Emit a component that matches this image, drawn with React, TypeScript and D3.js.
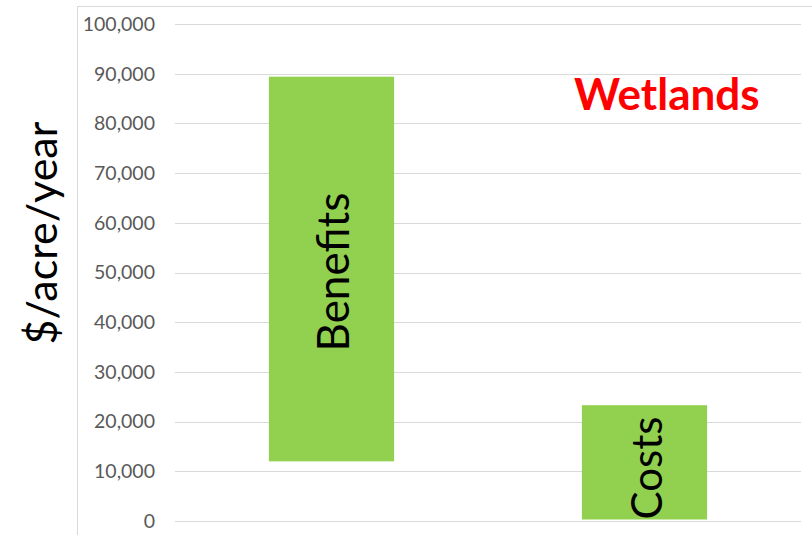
import React from "react";
import * as d3 from "d3";

const categories: string[] = ["Benefits", "Costs"];
const lowValues: number[] = [12000, 300];
const highValues: number[] = [89400, 23300];
const yTicks: number[] = [0, 10000, 20000, 30000, 40000, 50000, 60000, 70000, 80000, 90000, 100000];
const yTitle = "$/acre/year";
const chartTitle = "Wetlands";

const W = 812;
const H = 535;
const FONT = "Lato, 'Open Sans', sans-serif";

export default function App() {
  const x = d3.scaleBand<string>().domain(categories).range([175, 801]).paddingInner(0.6).paddingOuter(0.3);
  const y = d3.scaleLinear().domain([0, 100000]).range([521, 24]);
  const fmt = d3.format(",");

  return (
    <svg width={W} height={H} style={{ position: "absolute", left: 0, top: 0, background: "#fff" }}>
      <rect x={77.5} y={6.5} width={W + 10} height={H + 10} fill="#fff" stroke="#d9d9d9" strokeWidth={1} />
      {yTicks.map((t) => (
        <g key={t}>
          <line x1={175} x2={801} y1={Math.round(y(t)) + 0.5} y2={Math.round(y(t)) + 0.5} stroke="#d9d9d9" strokeWidth={1} />
          <text x={155} y={y(t)} dy="0.35em" textAnchor="end" fontFamily={FONT} fontSize={19.5} fill="#595959">
            {fmt(t)}
          </text>
        </g>
      ))}
      {categories.map((c, i) => {
        const bx = x(c)!;
        const bw = x.bandwidth();
        const top = y(highValues[i]);
        const bot = y(lowValues[i]);
        const cx = bx + bw / 2;
        const cy = i === 0 ? (top + bot) / 2 + 3 : 468;
        return (
          <g key={c}>
            <rect x={bx} y={top} width={bw} height={bot - top} fill="#92d050" />
            <text
              transform={`translate(${cx + 17},${cy}) rotate(-90)`}
              textAnchor="middle"
              fontFamily={FONT}
              fontSize={i === 0 ? 44 : 42}
              fill="#000"
            >
              {c}
            </text>
          </g>
        );
      })}
      <text transform={`translate(57,233) rotate(-90)`} textAnchor="middle" fontFamily={FONT} fontSize={43} fill="#000">
        {yTitle}
      </text>
      <text x={574} y={110} fontFamily={FONT} fontSize={44} fontWeight="bold" fill="#ff0000">
        {chartTitle}
      </text>
    </svg>
  );
}
